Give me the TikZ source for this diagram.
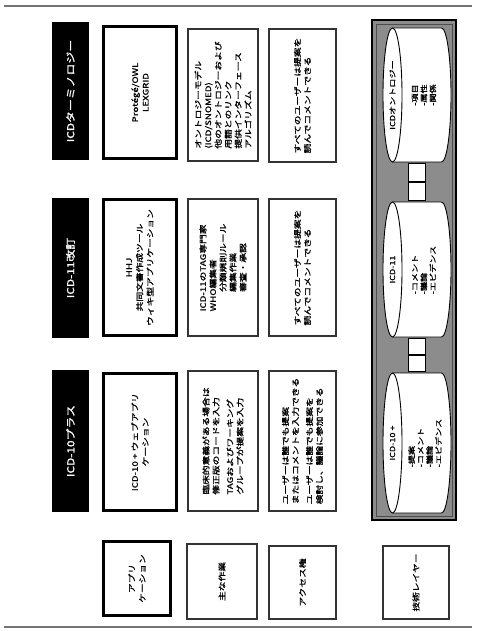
\documentclass[tikz,border=0pt]{standalone}
\usepackage{fontspec}
\newfontfamily\jp[FakeStretch=1.3,FakeBold=1.4]{Noto Sans CJK JP}
\newfontfamily\jph[FakeStretch=1.25,FakeBold=1.8]{Noto Sans CJK JP}
\begin{document}
\begin{tikzpicture}[x=1pt,y=-1pt,
  every node/.style={inner sep=1pt},
  hdr/.style={rotate=90, fill=black, text=white, minimum height=37,
    font=\jph\fontsize{9.5}{11}\selectfont},
  appbox/.style={rotate=90, draw=black, line width=2.8pt, fill=white,
    minimum height=73, align=center, font=\jp\fontsize{7.5}{10.5}\selectfont},
  workbox/.style={rotate=90, draw=black!80, line width=1.2pt, fill=white,
    minimum height=70, align=left, font=\jp\fontsize{7.5}{10}\selectfont},
  lblbox/.style={rotate=90, draw=black!80, line width=1.2pt, fill=white,
    align=center, font=\jp\fontsize{7.5}{10}\selectfont},
  cyltext/.style={rotate=90, align=left, font=\jp\fontsize{7}{9}\selectfont},
  pipe/.style={draw=black, line width=0.6pt, fill=white, minimum width=17,
    inner sep=0},
  frameline/.style={draw=black!55, line width=1.5pt}
]
\useasboundingbox (0,0) rectangle (476,631);
\draw[frameline] (4,6) -- (472,6);
\draw[frameline] (4,627) -- (472,627);

% header bars
\node[hdr, minimum width=138] (h1) at (70.5,91) {ICDターミノロジー};
\node[hdr, minimum width=140] (h2) at (70.5,268) {ICD-11改訂};
\node[hdr, minimum width=142] (h3) at (70.5,441) {ICD-10プラス};

% applications
\node[appbox, minimum width=132] (a1) at (140,92.5) {Protégé/OWL\\LEXGRID};
\node[appbox, minimum width=136] (a2) at (140,267.5) {HHJ\\共同文書作成ツール\\ウィキ型アプリケーション};
\node[appbox, minimum width=137] (a3) at (140,442) {ICD-10 + ウェブアプリ\\ケーション};
\node[appbox, minimum width=74, minimum height=67] (la) at (137,578.5) {アプリ\\ケーション};

% main work
\node[workbox, minimum width=132] (b1) at (223,95) {オントロジーモデル\\(ICD/SNOMED)\\他のオントロジーおよび\\用語とのリンク\\提供インターフェース\\アルゴリズム};
\node[workbox, minimum width=137] (b2) at (223,267.5) {ICD-11のTAG専門家\\WHO編集者\\　　分類規則ルール\\　　編集作業\\　　審査・承認};
\node[workbox, minimum width=140] (b3) at (223,441) {臨床的意義がある場合は\\修正版のコードを入力\\[4pt]TAGおよびワーキング\\グループが提案を入力};
\node[lblbox, minimum width=75, minimum height=70] (lb) at (222,581.5) {主な作業};

% access rights
\node[workbox, minimum width=133, minimum height=67] (c1) at (302.5,95.5) {すべてのユーザーは提案を\\読んでコメントできる};
\node[workbox, minimum width=137, minimum height=67] (c2) at (302.5,267.5) {すべてのユーザーは提案を\\読んでコメントできる};
\node[workbox, minimum width=140, minimum height=67] (c3) at (302.5,441) {ユーザーは誰でも提案\\またはコメントを入力できる\\[4pt]ユーザーは誰でも提案を\\検討し、議論に参加できる};
\node[lblbox, minimum width=73, minimum height=67] (lc) at (302.5,582.5) {アクセス権};

% technology layer
\node[draw=black, line width=1.8pt, fill=black!45, minimum width=84, minimum height=500] (tech) at (414,270) {};
\node[draw=black!70, line width=0.6pt, minimum width=76, minimum height=492] (techin) at (414,270) {};

% pipes between cylinders
\node[pipe, minimum height=18] (p1a) at (416.5,172) {};
\node[pipe, minimum height=18] (p1b) at (416.5,191) {};
\node[pipe, minimum height=16] (p2a) at (416.5,346) {};
\node[pipe, minimum height=16] (p2b) at (416.5,363) {};

% cylinders
\foreach \ya/\yb in {28/162, 202/337, 373/513}{
  \pgfmathsetmacro{\ym}{(\ya+\yb)/2}
  \pgfmathsetmacro{\ry}{(\yb-\ya)/2}
  \fill[white] (392.5,\ya) -- (441.5,\ya) arc[start angle=-90, end angle=90, x radius=9.5, y radius=\ry] -- (392.5,\yb) -- cycle;
  \draw[line width=0.9pt] (392.5,\ya) -- (441.5,\ya) arc[start angle=-90, end angle=90, x radius=9.5, y radius=\ry] -- (392.5,\yb);
  \draw[line width=0.9pt, fill=white] (392.5,\ym) ellipse [x radius=9.5, y radius=\ry];
}
\node[cyltext] (e1) at (392.5,95) {ICDオントロジー};
\node[cyltext] (t1) at (424,95) {-項目\\-属性\\-関係};
\node[cyltext] (e2) at (392.5,269.5) {ICD-11};
\node[cyltext] (t2) at (424,270) {-コメント\\-議論\\-エビデンス};
\node[cyltext] (e3) at (392.5,443) {ICD-10 +};
\node[cyltext] (t3) at (425,443) {-提案\\-コメント\\-議論\\-エビデンス};

\node[lblbox, minimum width=73, minimum height=66] (ld) at (416,582.5) {技術レイヤー};
\end{tikzpicture}
\end{document}
